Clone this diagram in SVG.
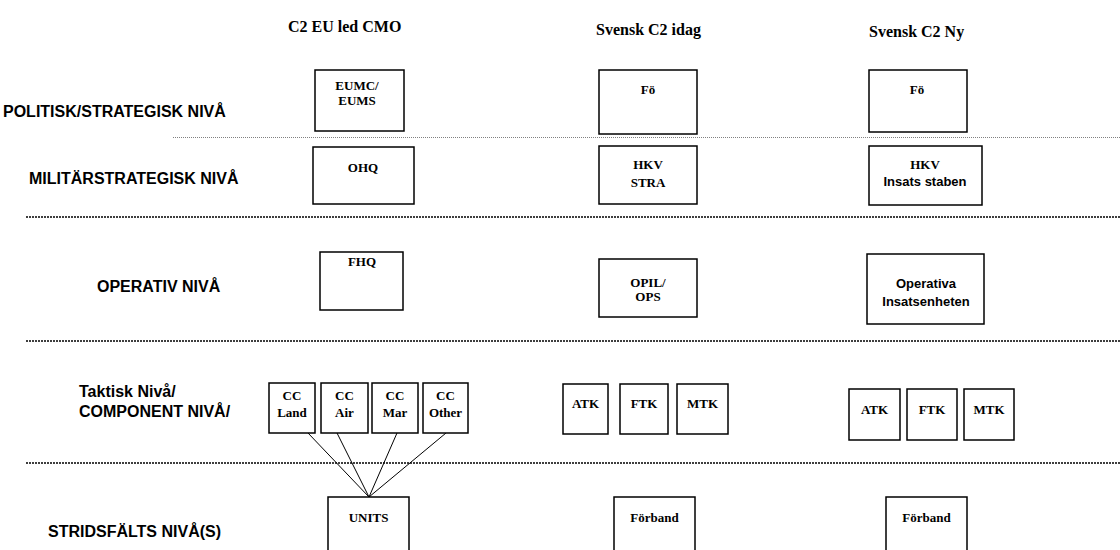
<svg xmlns="http://www.w3.org/2000/svg" width="1120" height="550" viewBox="0 0 1120 550">
<style>
.bg{fill:#ffffff}
.box{fill:#ffffff;stroke:#000000;stroke-width:1.5}
.hdr{font-family:"Liberation Serif","Times New Roman",serif;font-weight:bold;font-size:16px;fill:#000}
.lvl{font-family:"Liberation Sans",Arial,sans-serif;font-weight:bold;font-size:16px;fill:#000}
.t{font-family:"Liberation Serif","Times New Roman",serif;font-weight:bold;font-size:13px;fill:#000;text-anchor:middle}
.ta{font-family:"Liberation Sans",Arial,sans-serif;font-weight:bold;font-size:13px;fill:#000;text-anchor:middle}
.dot1{stroke:#808080;stroke-width:1;stroke-dasharray:1 1;fill:none}
.dot2{stroke:#000000;stroke-width:1.6;stroke-dasharray:2 1;fill:none}
.conn{stroke:#000000;stroke-width:1;fill:none}
</style>
<rect class="bg" x="0" y="0" width="1120" height="550"/>

<g id="headers">
<text class="hdr" x="288" y="32">C2 EU led CMO</text>
<text class="hdr" x="596" y="35">Svensk C2 idag</text>
<text class="hdr" x="869" y="37">Svensk C2 Ny</text>
</g>

<g id="levels">
<text class="lvl" x="3" y="117">POLITISK/STRATEGISK NIVÅ</text>
<text class="lvl" x="29" y="184">MILITÄRSTRATEGISK NIVÅ</text>
<text class="lvl" x="97" y="292">OPERATIV NIVÅ</text>
<text class="lvl" x="79" y="397">Taktisk Nivå/</text>
<text class="lvl" x="79" y="417">COMPONENT NIVÅ/</text>
<text class="lvl" x="48" y="537">STRIDSFÄLTS NIVÅ(S)</text>
</g>

<g id="separators">
<line class="dot1" x1="173" y1="137.5" x2="1120" y2="137.5"/>
<line class="dot2" x1="26" y1="217" x2="1120" y2="217"/>
<line class="dot2" x1="26" y1="341" x2="1120" y2="341"/>
<line class="dot2" x1="26" y1="463" x2="1120" y2="463"/>
</g>

<g id="connectors">
<line class="conn" x1="308" y1="433" x2="369" y2="497"/>
<line class="conn" x1="337" y1="433" x2="369" y2="497"/>
<line class="conn" x1="397" y1="433" x2="369" y2="497"/>
<line class="conn" x1="446" y1="433" x2="369" y2="497"/>
</g>

<g id="eumc"><rect class="box" x="315" y="70" width="89" height="61"/>
<text class="t" x="357" y="90">EUMC/</text><text class="t" x="357" y="105">EUMS</text></g>
<g id="fo-idag"><rect class="box" x="599" y="70" width="98" height="64"/>
<text class="t" x="648" y="94">Fö</text></g>
<g id="fo-ny"><rect class="box" x="869" y="70" width="98" height="62"/>
<text class="t" x="917" y="94">Fö</text></g>

<g id="ohq"><rect class="box" x="313" y="147" width="101" height="57"/>
<text class="t" x="363" y="172">OHQ</text></g>
<g id="hkv-stra"><rect class="box" x="599" y="146" width="98" height="58"/>
<text class="t" x="648" y="169">HKV</text><text class="t" x="648" y="187">STRA</text></g>
<g id="hkv-insats"><rect class="box" x="869" y="146" width="113" height="59"/>
<text class="t" x="925" y="169">HKV</text><text class="ta" x="925" y="186">Insats staben</text></g>

<g id="fhq"><rect class="box" x="320" y="252" width="83" height="58"/>
<text class="t" x="362" y="266">FHQ</text></g>
<g id="opil"><rect class="box" x="599" y="259" width="98" height="58"/>
<text class="t" x="648" y="287">OPIL/</text><text class="t" x="648" y="301">OPS</text></g>
<g id="operativa"><rect class="box" x="867" y="254" width="117" height="70"/>
<text class="ta" x="926" y="288">Operativa</text><text class="ta" x="926" y="306">Insatsenheten</text></g>

<g id="cc-land"><rect class="box" x="269" y="383" width="46" height="50"/>
<text class="t" x="292" y="400">CC</text><text class="t" x="292" y="417">Land</text></g>
<g id="cc-air"><rect class="box" x="321" y="383" width="47" height="50"/>
<text class="t" x="344.5" y="400">CC</text><text class="t" x="344.5" y="417">Air</text></g>
<g id="cc-mar"><rect class="box" x="372" y="383" width="46" height="50"/>
<text class="t" x="395" y="400">CC</text><text class="t" x="395" y="417">Mar</text></g>
<g id="cc-other"><rect class="box" x="423" y="383" width="45" height="50"/>
<text class="t" x="445.5" y="400">CC</text><text class="t" x="445.5" y="417">Other</text></g>

<g id="atk-idag"><rect class="box" x="563" y="384" width="45" height="50"/>
<text class="t" x="585.5" y="408">ATK</text></g>
<g id="ftk-idag"><rect class="box" x="620" y="384" width="48" height="50"/>
<text class="t" x="644" y="408">FTK</text></g>
<g id="mtk-idag"><rect class="box" x="677" y="384" width="51" height="50"/>
<text class="t" x="702.5" y="408">MTK</text></g>

<g id="atk-ny"><rect class="box" x="849" y="389" width="51" height="51"/>
<text class="t" x="874.5" y="414">ATK</text></g>
<g id="ftk-ny"><rect class="box" x="907" y="389" width="50" height="51"/>
<text class="t" x="932" y="414">FTK</text></g>
<g id="mtk-ny"><rect class="box" x="964" y="389" width="50" height="51"/>
<text class="t" x="989" y="414">MTK</text></g>

<g id="units"><rect class="box" x="328" y="497" width="81" height="70"/>
<text class="t" x="368.5" y="522">UNITS</text></g>
<g id="forband-idag"><rect class="box" x="614" y="497" width="81" height="70"/>
<text class="t" x="654.5" y="522">Förband</text></g>
<g id="forband-ny"><rect class="box" x="886" y="497" width="81" height="70"/>
<text class="t" x="926.5" y="522">Förband</text></g>
</svg>
